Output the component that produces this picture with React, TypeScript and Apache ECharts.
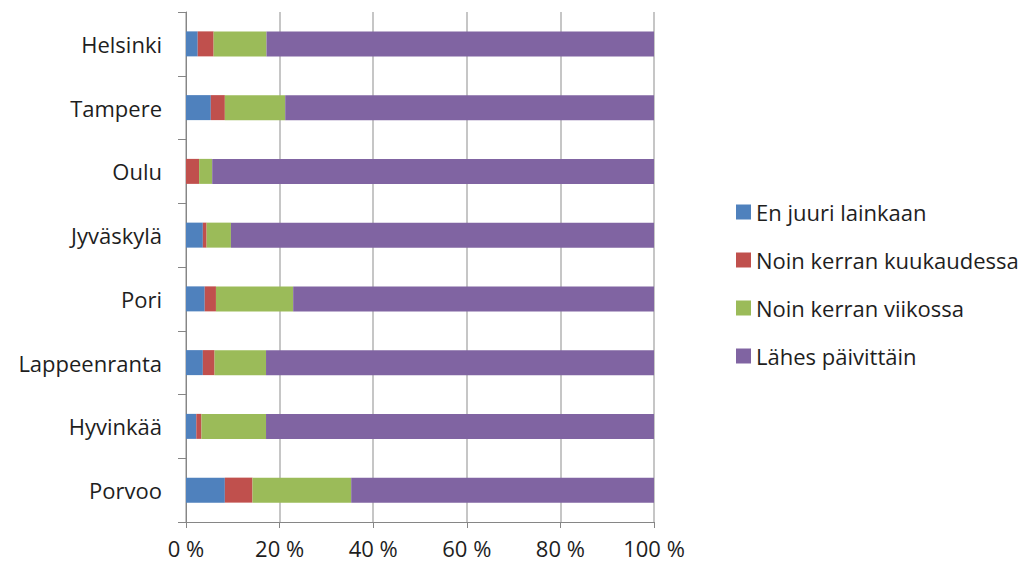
import React, { useEffect, useRef } from "react";
import * as echarts from "echarts";

const categories = ["Helsinki", "Tampere", "Oulu", "Jyväskylä", "Pori", "Lappeenranta", "Hyvinkää", "Porvoo"];
const seriesNames = ["En juuri lainkaan", "Noin kerran kuukaudessa", "Noin kerran viikossa", "Lähes päivittäin"];
const enJuuri = [2.5, 5.3, 0, 3.6, 4.0, 3.6, 2.2, 8.3];
const kuukausi = [3.4, 3.0, 2.8, 0.8, 2.4, 2.5, 1.1, 5.9];
const viikko = [11.3, 12.9, 2.8, 5.2, 16.5, 11.0, 13.8, 21.1];
const paivittain = [82.8, 78.8, 94.4, 90.4, 77.1, 82.9, 82.9, 64.7];
const xTicks = [0, 20, 40, 60, 80, 100];
const colors = ["#4F81BD", "#C0504D", "#9BBB59", "#8064A2"];

const FONT = "'Open Sans', sans-serif";

export default function App() {
  const ref = useRef<HTMLDivElement>(null);
  useEffect(() => {
    if (!ref.current) return;
    const chart = echarts.init(ref.current, null, { renderer: "svg" });
    const values = [enJuuri, kuukausi, viikko, paivittain];
    chart.setOption({
      animation: false,
      color: colors,
      textStyle: { fontFamily: FONT },
      grid: { left: 186, right: 375, top: 12, bottom: 46, containLabel: false },
      legend: {
        orient: "vertical",
        left: 731,
        top: 196,
        itemWidth: 15,
        itemHeight: 15,
        itemGap: 26,
        icon: "rect",
        data: seriesNames,
        textStyle: { fontFamily: FONT, fontSize: 22, color: "#1e1e1e", lineHeight: 22, padding: [0, 0, 0, 0] },
      },
      xAxis: {
        type: "value",
        position: "bottom",
        min: xTicks[0],
        max: xTicks[xTicks.length - 1],
        interval: 20,
        axisLine: { show: true, lineStyle: { color: "#868686", width: 1 } },
        axisTick: { show: true, length: 6, lineStyle: { color: "#868686" } },
        splitLine: { show: true, lineStyle: { color: "#b3b3b3", width: 1.5 } },
        axisLabel: {
          fontFamily: FONT,
          fontSize: 22,
          color: "#1e1e1e",
          margin: 15,
          formatter: (v: number) => `${v} %`,
        },
      },
      yAxis: {
        type: "category",
        data: categories,
        inverse: true,
        axisLine: { show: true, lineStyle: { color: "#868686", width: 1 } },
        axisTick: { show: true, length: 8, alignWithLabel: false, lineStyle: { color: "#868686" } },
        axisLabel: { fontFamily: FONT, fontSize: 22, color: "#1e1e1e", margin: 24 },
      },
      series: seriesNames.map((name, i) => ({
        name,
        type: "bar",
        stack: "total",
        barWidth: 25,
        data: values[i],
        itemStyle: { color: colors[i] },
      })),
    });
    return () => chart.dispose();
  }, []);
  return <div ref={ref} style={{ width: 1029, height: 568, position: "absolute", left: 0, top: 0 }} />;
}
